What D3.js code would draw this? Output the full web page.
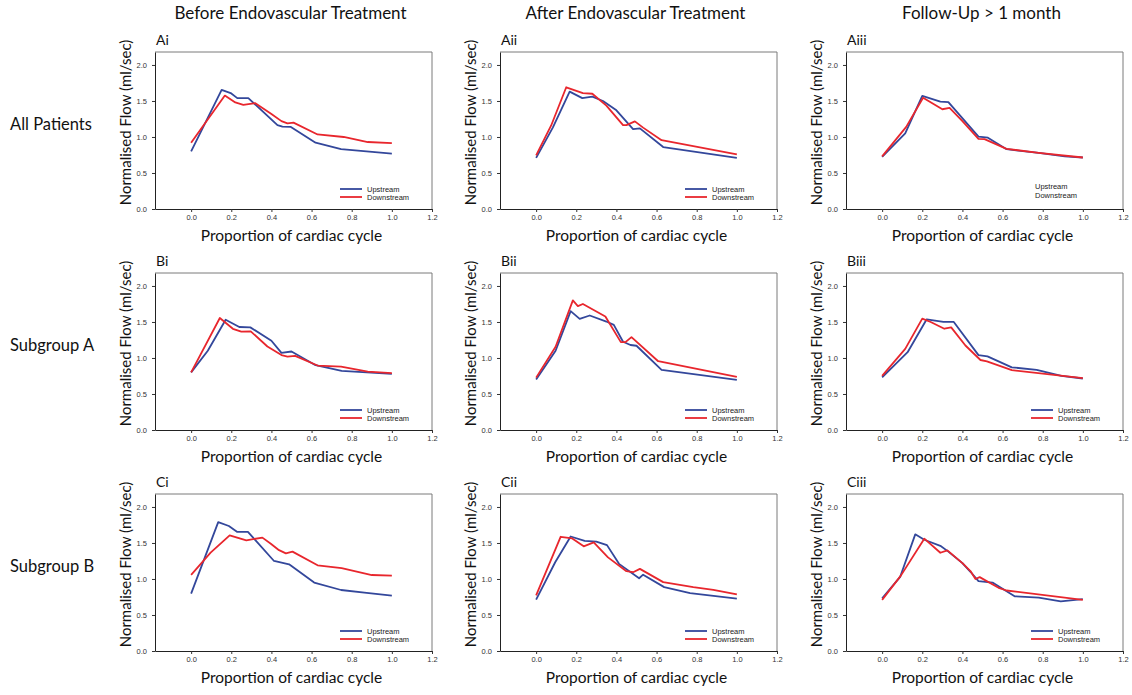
<!DOCTYPE html>
<html>
<head>
<meta charset="utf-8">
<script src="https://cdn.jsdelivr.net/npm/d3@7"></script>
<style>
  html, body { margin: 0; padding: 0; background: #fff; }
  svg { display: block; }
</style>
</head>
<body>
<svg id="chart" width="1132" height="695"></svg>
<script>
// Column headings (treatment stage) and row headings (patient group)
const columnTitles = ["Before Endovascular Treatment", "After Endovascular Treatment", "Follow-Up > 1 month"];
const rowTitles = ["All Patients", "Subgroup A", "Subgroup B"];
const panelLabels = [["Ai", "Aii", "Aiii"], ["Bi", "Bii", "Biii"], ["Ci", "Cii", "Ciii"]];
const seriesNames = ["Upstream", "Downstream"];
const xTicks = [0.0, 0.2, 0.4, 0.6, 0.8, 1.0, 1.2];
const yTicks = [0.0, 0.5, 1.0, 1.5, 2.0];

// Normalised flow over the cardiac cycle: [proportion of cycle, flow]
const aiUp   = [[0,0.80],[0.152,1.655],[0.197,1.61],[0.23,1.54],[0.285,1.54],[0.43,1.165],[0.455,1.145],[0.497,1.14],[0.62,0.92],[0.747,0.83],[1.0,0.77]];
const aiDown = [[0,0.92],[0.168,1.575],[0.22,1.48],[0.26,1.445],[0.32,1.47],[0.40,1.32],[0.45,1.22],[0.48,1.19],[0.51,1.20],[0.63,1.035],[0.76,1.0],[0.88,0.93],[1.0,0.915]];
const aiiUp   = [[0,0.71],[0.083,1.13],[0.167,1.63],[0.23,1.54],[0.28,1.56],[0.333,1.50],[0.40,1.37],[0.483,1.11],[0.517,1.12],[0.633,0.86],[1.0,0.71]];
const aiiDown = [[0,0.745],[0.075,1.16],[0.15,1.69],[0.233,1.61],[0.28,1.60],[0.35,1.435],[0.433,1.165],[0.45,1.165],[0.492,1.217],[0.533,1.13],[0.625,0.955],[1.0,0.76]];
const aiiiUp   = [[0,0.725],[0.115,1.05],[0.20,1.57],[0.29,1.49],[0.33,1.485],[0.48,1.005],[0.527,0.99],[0.62,0.83],[0.78,0.78],[0.91,0.73],[1.0,0.715]];
const aiiiDown = [[0,0.73],[0.12,1.14],[0.204,1.545],[0.30,1.385],[0.336,1.405],[0.40,1.22],[0.48,0.975],[0.51,0.97],[0.62,0.835],[0.78,0.78],[1.0,0.715]];
const biUp   = [[0,0.80],[0.083,1.10],[0.172,1.53],[0.24,1.43],[0.295,1.425],[0.40,1.24],[0.45,1.07],[0.50,1.09],[0.62,0.90],[0.75,0.82],[1.0,0.78]];
const biDown = [[0,0.80],[0.143,1.555],[0.208,1.405],[0.25,1.365],[0.297,1.37],[0.38,1.16],[0.45,1.04],[0.48,1.02],[0.518,1.03],[0.63,0.895],[0.747,0.88],[0.88,0.81],[1.0,0.79]];
const biiUp   = [[0,0.70],[0.097,1.10],[0.172,1.65],[0.217,1.543],[0.267,1.59],[0.35,1.506],[0.387,1.46],[0.433,1.226],[0.47,1.18],[0.50,1.17],[0.625,0.834],[1.0,0.695]];
const biiDown = [[0,0.727],[0.097,1.156],[0.183,1.80],[0.208,1.72],[0.233,1.75],[0.345,1.576],[0.422,1.22],[0.445,1.22],[0.475,1.29],[0.608,0.955],[1.0,0.737]];
const biiiUp   = [[0,0.73],[0.127,1.08],[0.222,1.537],[0.305,1.50],[0.357,1.50],[0.48,1.04],[0.525,1.023],[0.646,0.87],[0.77,0.836],[0.893,0.752],[1.0,0.715]];
const biiiDown = [[0,0.752],[0.115,1.126],[0.20,1.547],[0.242,1.50],[0.31,1.406],[0.344,1.425],[0.415,1.173],[0.49,0.972],[0.522,0.953],[0.646,0.832],[1.0,0.72]];
const ciUp   = [[0,0.796],[0.135,1.79],[0.188,1.736],[0.23,1.653],[0.283,1.653],[0.413,1.25],[0.488,1.204],[0.613,0.95],[0.747,0.847],[0.863,0.81],[1.0,0.768]];
const ciDown = [[0,1.056],[0.097,1.366],[0.192,1.606],[0.275,1.537],[0.355,1.574],[0.397,1.49],[0.438,1.40],[0.472,1.356],[0.505,1.38],[0.63,1.19],[0.75,1.15],[0.9,1.055],[1.0,1.046]];
const ciiUp   = [[0,0.713],[0.095,1.232],[0.172,1.59],[0.242,1.53],[0.30,1.52],[0.353,1.47],[0.413,1.21],[0.513,1.01],[0.533,1.06],[0.638,0.887],[0.767,0.805],[1.0,0.727]];
const ciiDown = [[0,0.772],[0.122,1.586],[0.18,1.563],[0.237,1.453],[0.287,1.508],[0.358,1.30],[0.45,1.108],[0.483,1.094],[0.517,1.14],[0.633,0.956],[0.783,0.887],[0.883,0.85],[1.0,0.786]];
const ciiiUp   = [[0,0.733],[0.09,1.03],[0.165,1.62],[0.21,1.545],[0.29,1.46],[0.33,1.38],[0.40,1.22],[0.44,1.10],[0.48,0.97],[0.55,0.95],[0.66,0.76],[0.78,0.74],[0.89,0.69],[1.0,0.72]];
const ciiiDown = [[0,0.71],[0.094,1.05],[0.21,1.56],[0.29,1.364],[0.325,1.397],[0.40,1.22],[0.44,1.11],[0.465,1.00],[0.486,1.026],[0.58,0.877],[0.62,0.84],[1.0,0.71]];

const panelSeries = [
  [[aiUp, aiDown], [aiiUp, aiiDown], [aiiiUp, aiiiDown]],
  [[biUp, biDown], [biiUp, biiDown], [biiiUp, biiiDown]],
  [[ciUp, ciDown], [ciiUp, ciiDown], [ciiiUp, ciiiDown]]
];

// Drawing setup
const seriesColors = ["#33479b", "#e8262d"];
const colLeft = [155, 500, 846];
const rowTop = [52, 273, 494];
const plotW = 277, plotH = 157;
const labelFont = "Lato, 'Open Sans', sans-serif";
const tickFont = "Arial, 'Liberation Sans', sans-serif";

const svg = d3.select("#chart");

columnTitles.forEach((t, c) => {
  svg.append("text")
    .attr("x", colLeft[c] + plotW / 2 - 3)
    .attr("y", 19)
    .attr("text-anchor", "middle")
    .style("font-family", labelFont)
    .style("font-size", "17px")
    .attr("fill", "#111")
    .text(t);
});

rowTitles.forEach((t, r) => {
  svg.append("text")
    .attr("x", 10)
    .attr("y", rowTop[r] + 78)
    .style("font-family", labelFont)
    .style("font-size", "16.5px")
    .attr("fill", "#111")
    .text(t);
});

const x = d3.scaleLinear().domain([-0.18, 1.2]).range([0, plotW]);
const y = d3.scaleLinear().domain([0, 2.18]).range([plotH, 0]);
const line = d3.line().x(d => x(d[0])).y(d => y(d[1]));

rowTitles.forEach((_, r) => {
  columnTitles.forEach((_, c) => {
    const g = svg.append("g").attr("transform", `translate(${colLeft[c]},${rowTop[r]})`);

    // frame: top and right edges in grey
    g.append("path")
      .attr("d", `M0,0H${plotW}V${plotH}`)
      .attr("fill", "none")
      .attr("stroke", "#7a7a7a")
      .attr("stroke-width", 1);

    const xAxis = g.append("g")
      .attr("transform", `translate(0,${plotH})`)
      .call(d3.axisBottom(x).tickValues(xTicks).tickFormat(d3.format(".1f")).tickSize(3).tickSizeOuter(0));
    const yAxis = g.append("g")
      .call(d3.axisLeft(y).tickValues(yTicks).tickFormat(d3.format(".1f")).tickSize(3).tickSizeOuter(0));
    [xAxis, yAxis].forEach(a => {
      a.select(".domain").attr("stroke", "#222");
      a.selectAll(".tick line").attr("stroke", "#333");
      a.selectAll(".tick text")
        .style("font-family", tickFont)
        .style("font-size", "7.5px")
        .attr("fill", "#333");
    });
    xAxis.selectAll(".tick text").attr("dy", "0.71em").attr("y", 6);
    yAxis.selectAll(".tick text").attr("x", -8);

    g.append("text")
      .attr("x", 1)
      .attr("y", -7)
      .style("font-family", labelFont)
      .style("font-size", "14px")
      .attr("fill", "#111")
      .text(panelLabels[r][c]);

    g.append("text")
      .attr("transform", `translate(-24,${plotH / 2 - 8}) rotate(-90)`)
      .attr("text-anchor", "middle")
      .style("font-family", labelFont)
      .style("font-size", "15px")
      .attr("fill", "#111")
      .text("Normalised Flow (ml/sec)");

    g.append("text")
      .attr("x", plotW / 2 - 2)
      .attr("y", plotH + 32)
      .attr("text-anchor", "middle")
      .style("font-family", labelFont)
      .style("font-size", "15.5px")
      .attr("fill", "#111")
      .text("Proportion of cardiac cycle");

    panelSeries[r][c].forEach((s, i) => {
      g.append("path")
        .datum(s)
        .attr("d", line)
        .attr("fill", "none")
        .attr("stroke", seriesColors[i])
        .attr("stroke-width", 1.8)
        .attr("stroke-linejoin", "round");
    });

    // legend (the follow-up panel of all patients carries the names only)
    const namesOnly = (r === 0 && c === 2);
    const lg = g.append("g").attr("transform", `translate(${namesOnly ? 189 : 185},${namesOnly ? 134 : 137})`);
    seriesNames.forEach((n, i) => {
      if (!namesOnly) {
        lg.append("line")
          .attr("x1", 0).attr("x2", 22)
          .attr("y1", i * 8).attr("y2", i * 8)
          .attr("stroke", seriesColors[i])
          .attr("stroke-width", 1.8);
      }
      lg.append("text")
        .attr("x", namesOnly ? 0 : 27)
        .attr("y", i * (namesOnly ? 9.5 : 8))
        .attr("dy", "0.35em")
        .style("font-family", tickFont)
        .style("font-size", "7.5px")
        .attr("fill", "#222")
        .text(n);
    });
  });
});
</script>
</body>
</html>
